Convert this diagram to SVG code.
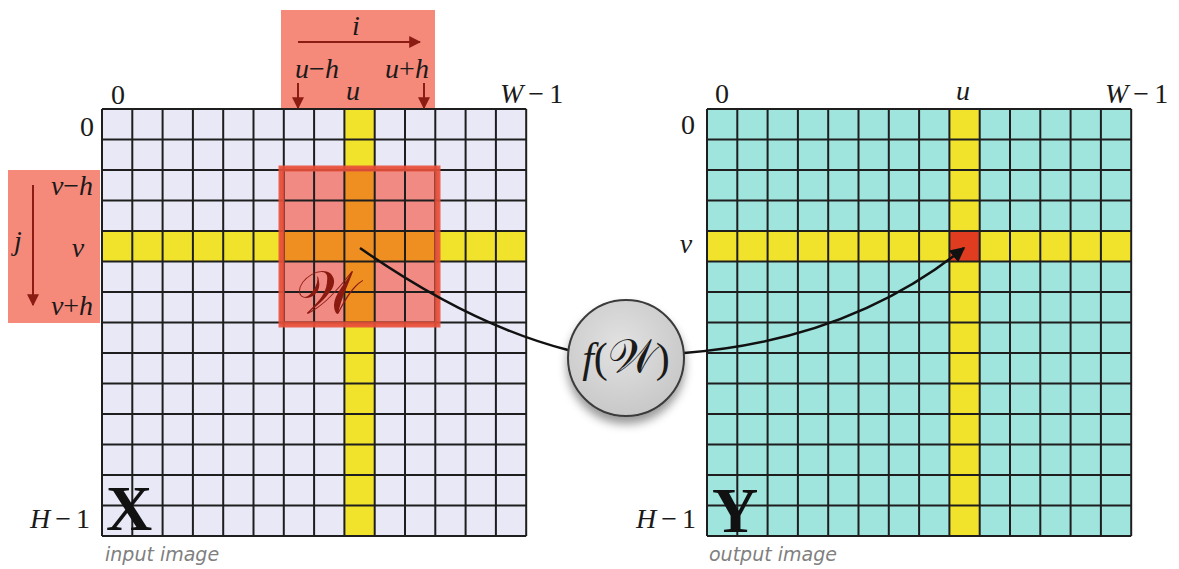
<svg xmlns="http://www.w3.org/2000/svg" width="1179" height="569" viewBox="0 0 1179 569">
<style>
.m{font-family:"Liberation Serif","DejaVu Serif",serif;font-style:italic;font-size:28px;fill:#1a1a1a}
.up{font-style:normal}
.lines{fill:none;stroke:#1e1e1e;stroke-width:2}
.cap{font-family:"DejaVu Sans","Liberation Sans",sans-serif;font-style:italic;font-size:19px;fill:#808080}
.big{font-family:"Liberation Serif","DejaVu Serif",serif;font-weight:bold;font-size:64px;fill:#111}
.scr{font-family:"DejaVu Serif","DejaVu Sans","Noto Sans",serif;font-style:normal}
.box{fill:#f5897a}
.darr{stroke:#8b1c14;stroke-width:2;fill:none}
.conn{stroke:#111;stroke-width:2.5;fill:none}
</style>
<defs>
<path id="grid" class="lines" d="M0 0V427M30.3 0V427M60.6 0V427M90.9 0V427M121.2 0V427M151.5 0V427M181.8 0V427M212.1 0V427M242.4 0V427M272.7 0V427M303 0V427M333.3 0V427M363.6 0V427M393.9 0V427M424.2 0V427M0 0H424.2M0 30.5H424.2M0 61H424.2M0 91.5H424.2M0 122H424.2M0 152.5H424.2M0 183H424.2M0 213.5H424.2M0 244H424.2M0 274.5H424.2M0 305H424.2M0 335.5H424.2M0 366H424.2M0 396.5H424.2M0 427H424.2"/>
<marker id="ar" viewBox="0 0 10 10" refX="9" refY="5" markerWidth="6" markerHeight="6" markerUnits="strokeWidth" orient="auto"><path d="M0 0L10 5L0 10z" fill="#8b1c14"/></marker>
<marker id="ak" viewBox="0 0 10 10" refX="9" refY="5" markerWidth="6" markerHeight="6" markerUnits="strokeWidth" orient="auto"><path d="M0 0L10 5L0 10z" fill="#111"/></marker>
<radialGradient id="cg" cx="0.45" cy="0.4" r="0.7"><stop offset="0" stop-color="#e2e2e2"/><stop offset="1" stop-color="#c4c4c4"/></radialGradient>
<filter id="sh" x="-30%" y="-30%" width="160%" height="170%"><feDropShadow dx="0" dy="7" stdDeviation="5" flood-color="#000" flood-opacity="0.4"/></filter>
</defs>

<g id="input-grid" transform="translate(102,109)">
<rect width="424.2" height="427" fill="#e8e8f7"/>
<rect x="242.4" width="30.3" height="427" fill="#f1e22c"/>
<rect y="122" width="424.2" height="30.5" fill="#f1e22c"/>
<rect x="178" y="58" width="159" height="159" fill="#f28a84"/>
<rect x="242.4" y="58" width="30.3" height="159" fill="#ef8f22"/>
<rect x="178" y="122" width="159" height="30.5" fill="#ef8f22"/>
<use href="#grid"/>
<rect x="179.5" y="59.5" width="156" height="156" fill="none" stroke="#e8503a" stroke-width="6" stroke-opacity="0.9"/>
<text class="scr" x="194" y="204" font-size="60" fill="#8a1a10">𝒲</text>
</g>

<g id="output-grid" transform="translate(707,109)">
<rect width="424.2" height="427" fill="#a0e4de"/>
<rect x="242.4" width="30.3" height="427" fill="#f1e22c"/>
<rect y="122" width="424.2" height="30.5" fill="#f1e22c"/>
<rect x="242.4" y="122" width="30.3" height="30.5" fill="#e03c1f"/>
<use href="#grid"/>
</g>

<g id="top-index-box">
<rect class="box" x="281" y="10" width="154" height="98"/>
<text class="m" x="356" y="35" text-anchor="middle">i</text>
<path class="darr" d="M298 42H420" marker-end="url(#ar)"/>
<text class="m" x="317" y="78" text-anchor="middle">u<tspan class="up">−</tspan>h</text>
<text class="m" x="407" y="78" text-anchor="middle">u<tspan class="up">+</tspan>h</text>
<path class="darr" d="M298 83V108" marker-end="url(#ar)"/>
<path class="darr" d="M424 83V108" marker-end="url(#ar)"/>
</g>

<g id="left-index-box">
<rect class="box" x="8" y="170" width="92" height="153"/>
<text class="m" x="18" y="250" text-anchor="middle">j</text>
<path class="darr" d="M33 185V305" marker-end="url(#ar)"/>
<text class="m" x="72" y="195" text-anchor="middle">v<tspan class="up">−</tspan>h</text>
<text class="m" x="78" y="257" text-anchor="middle">v</text>
<text class="m" x="72" y="315" text-anchor="middle">v<tspan class="up">+</tspan>h</text>
</g>

<g id="input-labels">
<text class="m up" x="118" y="104" text-anchor="middle">0</text>
<text class="m" x="353" y="100" text-anchor="middle">u</text>
<text class="m" x="500" y="103">W<tspan class="up" dx="5">−</tspan><tspan class="up" dx="5">1</tspan></text>
<text class="m up" x="87" y="136" text-anchor="middle">0</text>
<text class="m" x="30" y="528">H<tspan class="up" dx="5">−</tspan><tspan class="up" dx="5">1</tspan></text>
<text class="big" x="106" y="530">X</text>
<text class="cap" x="105" y="561">input image</text>
</g>

<g id="output-labels">
<text class="m up" x="722" y="103" text-anchor="middle">0</text>
<text class="m" x="963" y="100" text-anchor="middle">u</text>
<text class="m" x="1105" y="103">W<tspan class="up" dx="5">−</tspan><tspan class="up" dx="5">1</tspan></text>
<text class="m up" x="688" y="134" text-anchor="middle">0</text>
<text class="m" x="686" y="253" text-anchor="middle">v</text>
<text class="m" x="636" y="528">H<tspan class="up" dx="5">−</tspan><tspan class="up" dx="5">1</tspan></text>
<text class="big" x="712" y="532">Y</text>
<text class="cap" x="709" y="561">output image</text>
</g>

<g id="connectors">
<path class="conn" d="M360 248Q470 325 568 350"/>
<path class="conn" d="M684 353Q850 340 964 248" marker-end="url(#ak)"/>
</g>

<g id="f-node">
<circle cx="626" cy="358" r="58" fill="url(#cg)" stroke="#3a3a3a" stroke-width="2" filter="url(#sh)"/>
<text x="626" y="372" text-anchor="middle" font-size="42" fill="#1a1a1a" font-family="Liberation Serif, DejaVu Serif, serif"><tspan font-style="italic">f</tspan>(<tspan class="scr" font-size="46">𝒲</tspan>)</text>
</g>
</svg>
